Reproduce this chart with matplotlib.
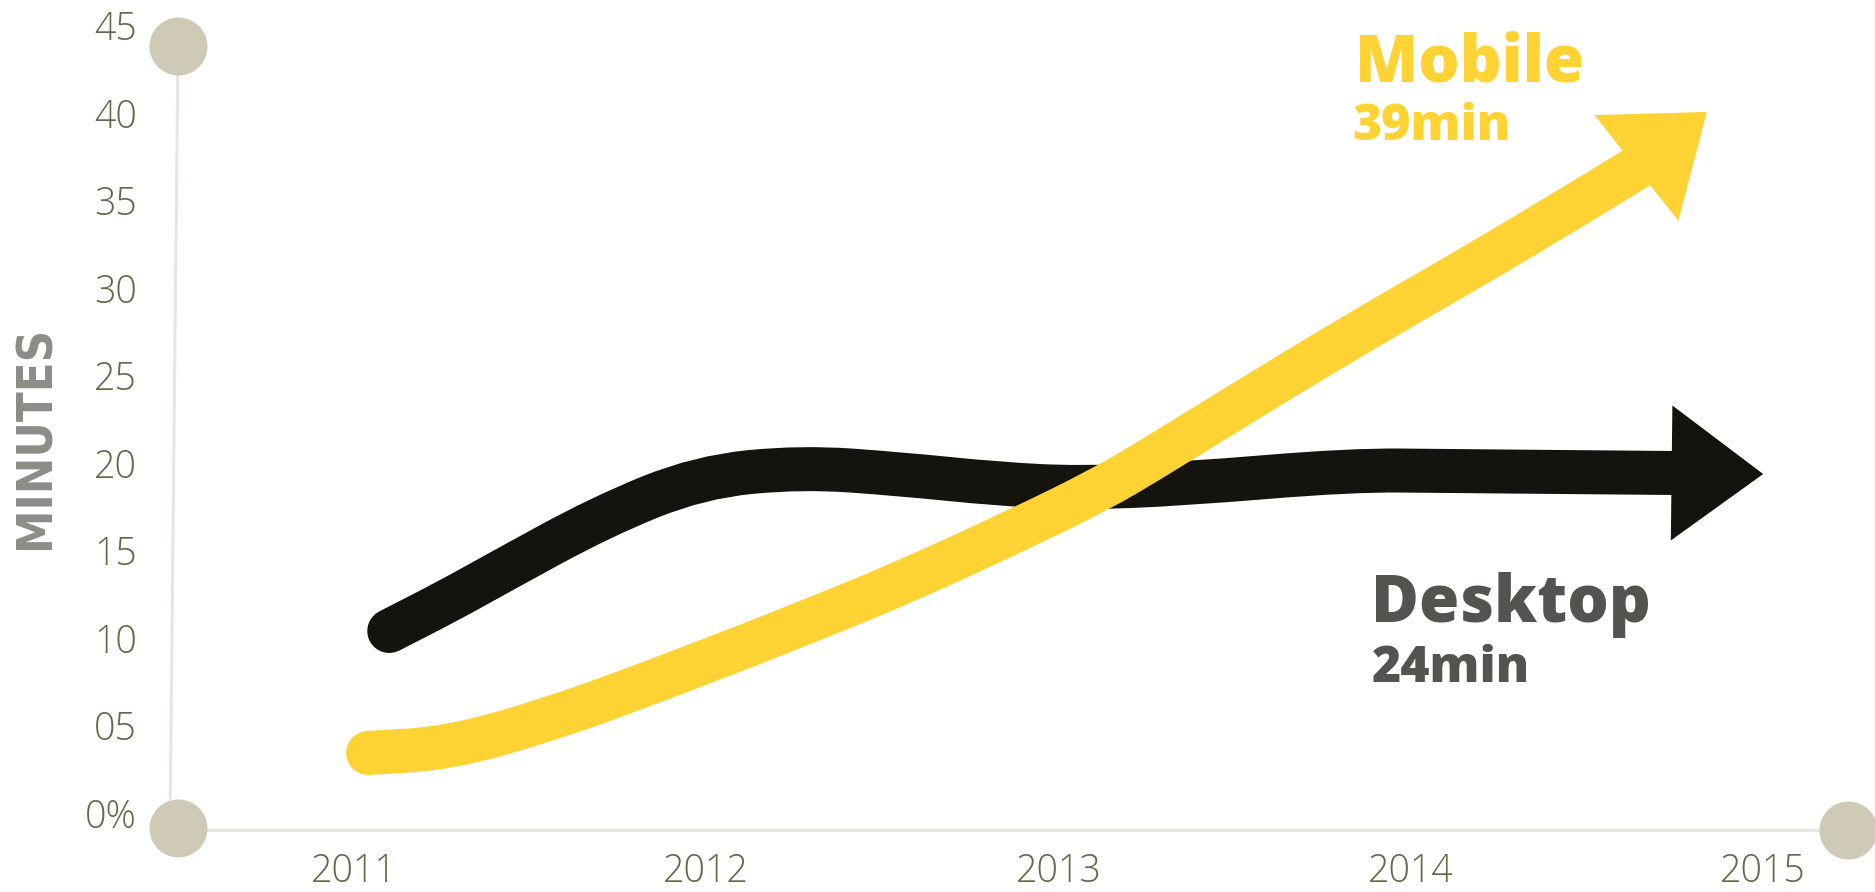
import matplotlib
matplotlib.use("Agg")
import numpy as np
import matplotlib.pyplot as plt
from matplotlib.patches import Polygon, PathPatch
from matplotlib.path import Path


# ============================================================
# Data: daily minutes spent online, desktop vs mobile
# ============================================================

desktop_years = [2011.10, 2011.27, 2011.41, 2011.70, 2011.98, 2012.27,
                 2012.55, 2012.83, 2013.06, 2013.35, 2013.83, 2014.11,
                 2014.74, 2015.00]
desktop_minutes = [10.40, 12.15, 13.72, 16.91, 19.20, 19.77,
                   19.37, 18.80, 18.57, 18.80, 19.60, 19.54,
                   19.43, 19.37]

mobile_years = [2011.04, 2011.27, 2011.56, 2011.84, 2012.12, 2012.32,
                2012.55, 2012.89, 2013.12, 2013.26, 2013.54, 2013.83,
                2014.11, 2014.40, 2014.64, 2014.84]
mobile_minutes = [3.43, 3.71, 5.37, 7.43, 9.60, 11.20,
                  13.09, 16.23, 18.51, 20.17, 23.66, 27.20,
                  30.46, 33.89, 36.86, 40.06]

year_ticks = [2011, 2012, 2013, 2014, 2015]
minute_ticks = [0, 5, 10, 15, 20, 25, 30, 35, 40, 45]
minute_labels = ["0%", "05", "10", "15", "20", "25", "30", "35", "40", "45"]

mobile_label = "Mobile"
mobile_value = "39min"
desktop_label = "Desktop"
desktop_value = "24min"


# ============================================================
# Style
# ============================================================

YELLOW = "#FED333"
BLACK = "#14130E"
DARK_GREY = "#545350"
TICK_COLOR = "#6B6549"
AXIS_COLOR = "#E9E6DF"
DOT_COLOR = "#CFCAB6"

W, H, DPI = 1875, 892, 100
LINE_PX = 44
HEAD_PX = 135

BODY_FONT = ["Open Sans", "DejaVu Sans"]


def px(v):
    """Pixels to points."""
    return v * 72 / DPI


def smooth_path(xs, ys):
    """Quadratic curve through the midpoints, using each point as control."""
    pts = np.column_stack([xs, ys])
    verts = [pts[0], (pts[0] + pts[1]) / 2]
    codes = [Path.MOVETO, Path.LINETO]
    for i in range(1, len(pts) - 1):
        end = pts[i + 1] if i == len(pts) - 2 else (pts[i] + pts[i + 1]) / 2
        verts += [pts[i], end]
        codes += [Path.CURVE3, Path.CURVE3]
    return Path(verts, codes)


def draw_arrow(ax, xs, ys, color, z):
    """Thick smooth line with a triangular head between the last two points."""
    shaft = PathPatch(smooth_path(xs[:-1], ys[:-1]), facecolor="none",
                      edgecolor=color, lw=px(LINE_PX), capstyle="round",
                      joinstyle="round", zorder=z)
    ax.add_patch(shaft)

    p0 = ax.transData.transform((xs[-2], ys[-2]))
    p1 = ax.transData.transform((xs[-1], ys[-1]))
    d = p1 - p0
    u = d / np.hypot(*d)
    n = np.array([-u[1], u[0]])
    half = HEAD_PX / 2
    corners = ax.transData.inverted().transform(
        [p0 + n * half, p1, p0 - n * half]
    )
    ax.add_patch(Polygon(corners, closed=True, facecolor=color,
                         edgecolor="none", zorder=z))


fig = plt.figure(figsize=(W / DPI, H / DPI), dpi=DPI)
fig.patch.set_facecolor("white")

left, right, bottom, top = 178, 1848, 830, 0
ax = fig.add_axes([left / W, 1 - bottom / H, (right - left) / W, (bottom - top) / H])
ax.set_facecolor("none")

ax.set_xlim(2010.5004, 2015.2407)
ax.set_ylim(-0.971, 46.457)

for s in ax.spines.values():
    s.set_visible(False)

ax.set_xticks(year_ticks)
ax.set_xticklabels([str(y) for y in year_ticks])
ax.set_yticks(minute_ticks)
ax.set_yticklabels(minute_labels)
ax.tick_params(axis="both", length=0, labelsize=27, labelcolor=TICK_COLOR)
ax.tick_params(axis="x", pad=px(23))
ax.tick_params(axis="y", pad=px(41))
for lab in ax.get_xticklabels() + ax.get_yticklabels():
    lab.set_family(BODY_FONT)
    lab.set_fontweight("light")

# axis lines with the round end dots
ax.plot([0, -0.0048], [0.9446, 0.0024], transform=ax.transAxes,
        color=AXIS_COLOR, lw=px(3), clip_on=False, zorder=1)
ax.plot([0, 1], [0, 0], transform=ax.transAxes,
        color=AXIS_COLOR, lw=px(3), clip_on=False, zorder=1)
ax.scatter([0, 0, 1], [0.9446, 0.0024, 0], transform=ax.transAxes,
           s=px(58) ** 2, color=DOT_COLOR, clip_on=False, zorder=2,
           linewidths=0)

draw_arrow(ax, desktop_years, desktop_minutes, BLACK, 3)
draw_arrow(ax, mobile_years, mobile_minutes, YELLOW, 4)

fig.text(36 / W, 1 - 437 / H, "MINUTES", rotation=90, ha="center",
         va="center", fontsize=35, fontweight="bold", fontstretch="condensed",
         color="#8D8D88",
         family=["Liberation Sans Narrow", "DejaVu Sans"])

fig.text(1355 / W, 1 - 82 / H, mobile_label, fontsize=47, fontweight="heavy",
         color=YELLOW, family=BODY_FONT, va="baseline", ha="left")
fig.text(1352 / W, 1 - 140 / H, mobile_value, fontsize=36, fontweight="heavy",
         color=YELLOW, family=BODY_FONT, va="baseline", ha="left")
fig.text(1371 / W, 1 - 622 / H, desktop_label, fontsize=47, fontweight="heavy",
         color=DARK_GREY, family=BODY_FONT, va="baseline", ha="left")
fig.text(1372 / W, 1 - 682 / H, desktop_value, fontsize=36, fontweight="heavy",
         color=DARK_GREY, family=BODY_FONT, va="baseline", ha="left")

fig.savefig("out.png", dpi=DPI, facecolor="white")
